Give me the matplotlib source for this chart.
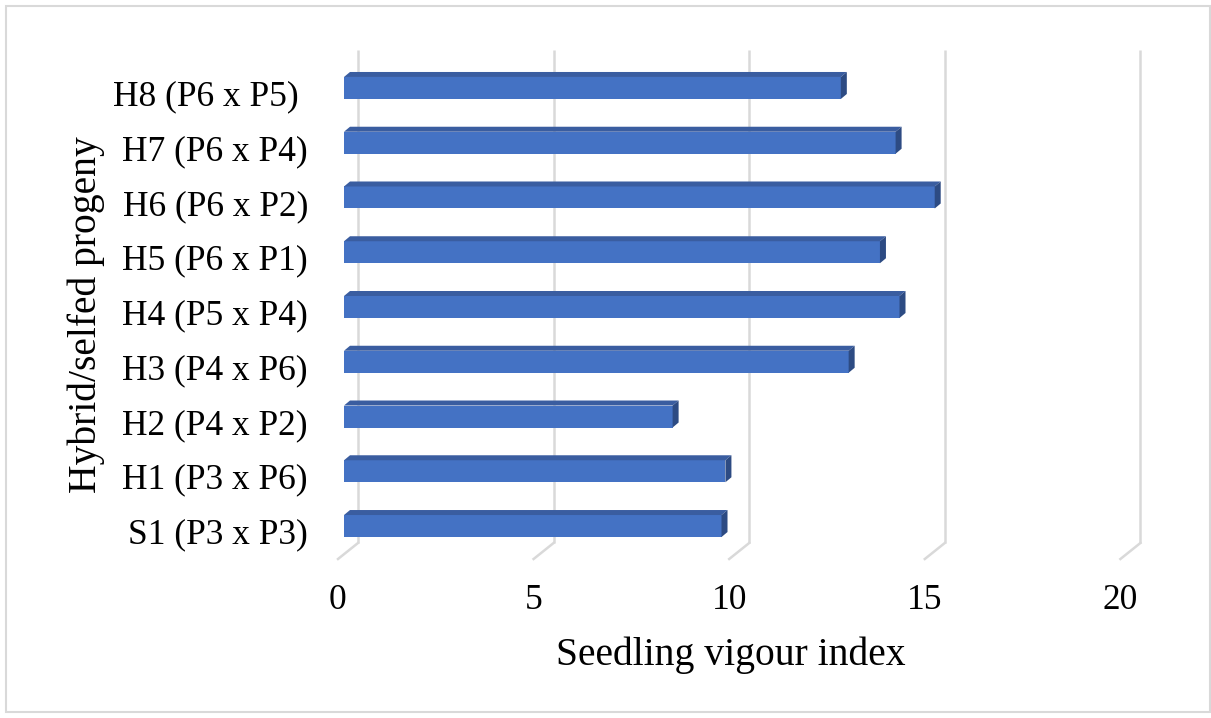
import matplotlib
matplotlib.use("Agg")
import matplotlib.pyplot as plt
from matplotlib.patches import Polygon, Rectangle
from matplotlib.transforms import ScaledTranslation, blended_transform_factory, Affine2D

# Data
categories = ["S1 (P3 x P3)", "H1 (P3 x P6)", "H2 (P4 x P2)", "H3 (P4 x P6)",
              "H4 (P5 x P4)", "H5 (P6 x P1)", "H6 (P6 x P2)", "H7 (P6 x P4)",
              "H8 (P6 x P5) "]
vigour = [9.65, 9.75, 8.4, 12.9, 14.2, 13.7, 15.1, 14.1, 12.7]
xticks = [0, 5, 10, 15, 20]
xlabel = "Seedling vigour index"
ylabel = "Hybrid/selfed progeny"

W, H, DPI = 1211, 718, 100
plt.rcParams['font.family'] = ['Liberation Serif', 'DejaVu Serif']

fig = plt.figure(figsize=(W / DPI, H / DPI), dpi=DPI)

# axes placed in pixel terms (top-left origin converted to figure fractions)
ax_left_px, ax_right_px = 344, 1126.4
ax_top_px, ax_bot_px = 60.6, 553.4
ax = fig.add_axes([ax_left_px / W, 1 - ax_bot_px / H,
                   (ax_right_px - ax_left_px) / W, (ax_bot_px - ax_top_px) / H])
ax.set_xlim(0, 20)
ax.set_ylim(-0.5, len(categories) - 0.5)
ax.axis('on')
for s in ax.spines.values():
    s.set_visible(False)
ax.patch.set_alpha(0)

px_per_x = (ax_right_px - ax_left_px) / 20
px_per_y = (ax_bot_px - ax_top_px) / len(categories)

# back-wall gridlines and floor diagonals (drawn in pixel offsets from the data positions)
grid_col = '#D9D9D9'
bt = blended_transform_factory(ax.transData, ax.transAxes)
back = bt + Affine2D().translate(14, 0)
front = bt + Affine2D().translate(-6, 0)
frac_top = 1 + (ax_top_px - 50) / (ax_bot_px - ax_top_px)
frac_floor_back = (ax_bot_px - 543) / (ax_bot_px - ax_top_px)
frac_floor_front = (ax_bot_px - 559) / (ax_bot_px - ax_top_px)
for v in xticks:
    ax.plot([v, v], [frac_floor_back, frac_top], transform=back, color=grid_col,
            lw=1.8, clip_on=False, zorder=0, solid_capstyle='butt')
    # diagonal across the floor
    p0 = back.transform((v, frac_floor_back))
    p1 = front.transform((v, frac_floor_front))
    ax.add_line(plt.Line2D([p0[0], p1[0]], [p0[1], p1[1]], transform=None,
                           color=grid_col, lw=1.8, clip_on=False, zorder=0))

# 3-D style bars: front face plus top and side faces
bar_h = 22 / px_per_y
ddx = 6 / px_per_x
ddy = 5 / px_per_y
face_col, top_col, side_col = '#4472C4', '#3A5DA0', '#2D4B83'
ypos = list(range(len(categories)))
ax.barh(ypos, vigour, height=bar_h, color=face_col, zorder=3)
for y, v in zip(ypos, vigour):
    t = y + bar_h / 2
    b = y - bar_h / 2
    ax.add_patch(Polygon([(0, t), (v, t), (v + ddx, t + ddy), (ddx, t + ddy)],
                         closed=True, facecolor=top_col, edgecolor='none', zorder=3))
    ax.add_patch(Polygon([(v, b), (v, t), (v + ddx, t + ddy), (v + ddx, b + ddy)],
                         closed=True, facecolor=side_col, edgecolor='none', zorder=3))

# ticks
ax.set_yticks(ypos)
ax.set_yticklabels(categories, fontsize=25.5)
ax.set_xticks(xticks)
ax.set_xticklabels([str(v) for v in xticks], fontsize=25.5)
ax.tick_params(axis='both', length=0)
ax.tick_params(axis='y', pad=26)
ax.tick_params(axis='x', pad=22)
for lab in ax.get_yticklabels():
    lab.set_transform(lab.get_transform() + ScaledTranslation(0, -0.05, fig.dpi_scale_trans))
for lab in ax.get_xticklabels():
    lab.set_transform(lab.get_transform() + ScaledTranslation(-0.06, 0, fig.dpi_scale_trans))

# axis titles
fig.text(731 / W, 1 - 655 / H, xlabel, fontsize=28.5, ha='center', va='center')
fig.text(86 / W, 1 - 315 / H, ylabel, fontsize=28.5, ha='center', va='center',
         rotation=90)

# chart-area border
fig.patches.append(Rectangle((6 / W, 1 - 712 / H), 1204 / W, 706 / H,
                             transform=fig.transFigure, fill=False,
                             edgecolor='#D9D9D9', lw=1.5))

fig.savefig("out.png", dpi=DPI)
